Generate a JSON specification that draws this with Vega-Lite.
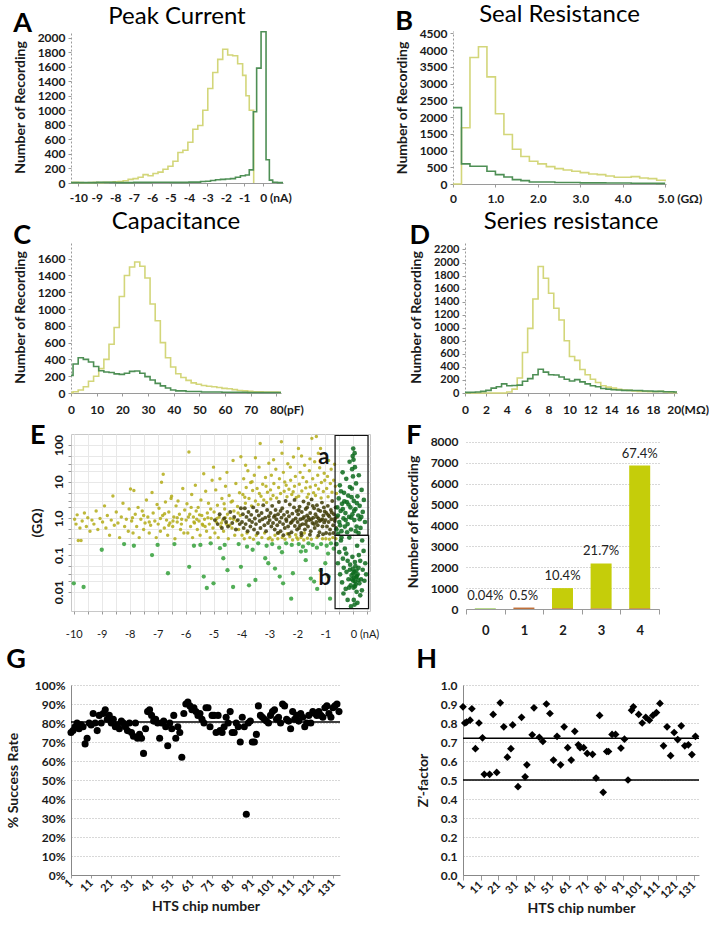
{
"$schema": "https://vega.github.io/schema/vega-lite/v6.json",
"background": "white",
"padding": {"left": 6, "top": 3, "right": 0, "bottom": 0},
"spacing": 6,
"resolve": {"scale": {"color": "independent", "size": "independent"}},
"config": {
  "font": "Lato",
  "view": {"stroke": null},
  "axis": {"labelFont": "Lato", "labelFontWeight": "bold", "labelFontSize": 12, "labelColor": "#1a1a1a", "titleFont": "Lato", "titleFontWeight": "bold", "titleFontSize": 14, "titleColor": "#1a1a1a", "domainColor": "#9a9a9a", "tickColor": "#9a9a9a", "tickSize": 3, "grid": false, "labelPadding": 3, "titlePadding": 10, "labelOverlap": false},
  "title": {"font": "Lato", "color": "#000", "fontWeight": "normal", "fontSize": 24},
  "line": {"strokeWidth": 1.6}
},
"vconcat": [
{"hconcat": [
 {"title": {"text": "A", "anchor": "start", "frame": "bounds", "fontSize": 27, "fontWeight": "bold", "offset": -33},
  "resolve": {"scale": {"color": "independent"}},
  "vconcat": [{
  "width": 212, "height": 152,
  "title": {"text": "Peak Current", "offset": 0},
  "data": {"values": [
{"s":"Y","x":-10.4,"n":6},{"s":"Y","x":-10.27,"n":8},{"s":"Y","x":-10.0,"n":5},{"s":"Y","x":-9.73,"n":3},{"s":"Y","x":-9.46,"n":5},{"s":"Y","x":-9.19,"n":8},{"s":"Y","x":-8.92,"n":5},{"s":"Y","x":-8.65,"n":8},{"s":"Y","x":-8.38,"n":10},{"s":"Y","x":-8.11,"n":15},{"s":"Y","x":-7.84,"n":20},{"s":"Y","x":-7.57,"n":30},{"s":"Y","x":-7.3,"n":50},{"s":"Y","x":-7.03,"n":60},{"s":"Y","x":-6.76,"n":80},{"s":"Y","x":-6.49,"n":115},{"s":"Y","x":-6.22,"n":100},{"s":"Y","x":-5.95,"n":130},{"s":"Y","x":-5.68,"n":150},{"s":"Y","x":-5.41,"n":190},{"s":"Y","x":-5.14,"n":230},{"s":"Y","x":-4.87,"n":300},{"s":"Y","x":-4.6,"n":420},{"s":"Y","x":-4.33,"n":450},{"s":"Y","x":-4.06,"n":560},{"s":"Y","x":-3.79,"n":740},{"s":"Y","x":-3.52,"n":790},{"s":"Y","x":-3.25,"n":1000},{"s":"Y","x":-2.98,"n":1300},{"s":"Y","x":-2.71,"n":1520},{"s":"Y","x":-2.44,"n":1700},{"s":"Y","x":-2.17,"n":1840},{"s":"Y","x":-1.9,"n":1760},{"s":"Y","x":-1.63,"n":1750},{"s":"Y","x":-1.36,"n":1640},{"s":"Y","x":-1.09,"n":1480},{"s":"Y","x":-0.91,"n":1200},{"s":"Y","x":-0.73,"n":1000},{"s":"Y","x":-0.49,"n":0},
{"s":"G","x":-10.4,"n":5},{"s":"G","x":-9.0,"n":8},{"s":"G","x":-8.0,"n":5},{"s":"G","x":-7.0,"n":8},{"s":"G","x":-6.0,"n":10},{"s":"G","x":-5.0,"n":8},{"s":"G","x":-4.0,"n":12},{"s":"G","x":-3.37,"n":20},{"s":"G","x":-3.1,"n":25},{"s":"G","x":-2.83,"n":35},{"s":"G","x":-2.56,"n":45},{"s":"G","x":-2.29,"n":50},{"s":"G","x":-2.02,"n":55},{"s":"G","x":-1.75,"n":60},{"s":"G","x":-1.48,"n":80},{"s":"G","x":-1.21,"n":100},{"s":"G","x":-0.94,"n":110},{"s":"G","x":-0.73,"n":180},{"s":"G","x":-0.51,"n":980},{"s":"G","x":-0.33,"n":1580},{"s":"G","x":-0.09,"n":2080},{"s":"G","x":0.18,"n":320},{"s":"G","x":0.36,"n":40},{"s":"G","x":0.54,"n":10},{"s":"G","x":0.8,"n":5},{"s":"G","x":1.1,"n":5}
  ]},
  "mark": {"type": "line", "interpolate": "step-after"},
  "encoding": {
    "x": {"field": "x", "type": "quantitative", "scale": {"domain": [-10.4, 1.1], "nice": false, "zero": false},
      "axis": {"title": null, "values": [-10,-9,-8,-7,-6,-5,-4,-3,-2,-1,0], "labelExpr": "datum.value == 0 ? '0 (nA)' : '' + datum.value", "labelAlign": {"condition": {"test": "datum.value == 0", "value": "left"}, "value": "center"}, "labelOffset": {"condition": {"test": "datum.value == 0", "value": -3}, "value": 0}, "labelPadding": 6}},
    "y": {"field": "n", "type": "quantitative", "scale": {"domain": [0, 2090], "nice": false},
      "axis": {"title": "Number of Recording", "titlePadding": 10, "format": "d", "values": [0,200,400,600,800,1000,1200,1400,1600,1800,2000], "domainDash": [2,2]}},
    "color": {"field": "s", "type": "nominal", "scale": {"domain": ["Y","G"], "range": ["#d3d67a","#4e8f55"]}, "legend": null}
  }
 }]},
 {"title": {"text": "B", "anchor": "start", "frame": "bounds", "fontSize": 27, "fontWeight": "bold", "offset": -33},
  "resolve": {"scale": {"color": "independent"}},
  "vconcat": [{
  "width": 213, "height": 153,
  "title": {"text": "Seal Resistance", "offset": 0},
  "data": {"values": [
{"s":"Y","x":0,"n":0},{"s":"Y","x":0.2,"n":1680},{"s":"Y","x":0.4,"n":3780},{"s":"Y","x":0.6,"n":4100},{"s":"Y","x":0.8,"n":3200},{"s":"Y","x":1.0,"n":2100},{"s":"Y","x":1.2,"n":1480},{"s":"Y","x":1.4,"n":1040},{"s":"Y","x":1.6,"n":820},{"s":"Y","x":1.8,"n":680},{"s":"Y","x":2.0,"n":600},{"s":"Y","x":2.2,"n":520},{"s":"Y","x":2.4,"n":460},{"s":"Y","x":2.6,"n":420},{"s":"Y","x":2.8,"n":380},{"s":"Y","x":3.0,"n":340},{"s":"Y","x":3.2,"n":300},{"s":"Y","x":3.4,"n":280},{"s":"Y","x":3.6,"n":240},{"s":"Y","x":3.8,"n":200},{"s":"Y","x":4.0,"n":200},{"s":"Y","x":4.2,"n":220},{"s":"Y","x":4.4,"n":180},{"s":"Y","x":4.6,"n":160},{"s":"Y","x":4.8,"n":110},{"s":"Y","x":5.0,"n":80},
{"s":"G","x":0,"n":2280},{"s":"G","x":0.2,"n":600},{"s":"G","x":0.4,"n":530},{"s":"G","x":0.6,"n":530},{"s":"G","x":0.8,"n":380},{"s":"G","x":1.0,"n":280},{"s":"G","x":1.2,"n":210},{"s":"G","x":1.4,"n":130},{"s":"G","x":1.6,"n":100},{"s":"G","x":1.8,"n":60},{"s":"G","x":2.4,"n":45},{"s":"G","x":3.0,"n":35},{"s":"G","x":3.6,"n":28},{"s":"G","x":4.2,"n":22},{"s":"G","x":4.8,"n":18},{"s":"G","x":5.0,"n":18}
  ]},
  "mark": {"type": "line", "interpolate": "step-after"},
  "encoding": {
    "x": {"field": "x", "type": "quantitative", "scale": {"domain": [0, 5.02], "nice": false},
      "axis": {"title": null, "values": [0,1,2,3,4,5], "labelExpr": "datum.value == 0 ? '0' : datum.value == 5 ? '5.0 (GΩ)' : format(datum.value, '.1f')", "labelAlign": {"condition": {"test": "datum.value == 5", "value": "left"}, "value": "center"}, "labelOffset": {"condition": {"test": "datum.value == 5", "value": -8}, "value": 0}, "labelPadding": 6}},
    "y": {"field": "n", "type": "quantitative", "scale": {"domain": [0, 4570], "nice": false},
      "axis": {"title": "Number of Recording", "format": "d", "values": [0,500,1000,1500,2000,2500,3000,3500,4000,4500], "domainDash": [2,2]}},
    "color": {"field": "s", "type": "nominal", "scale": {"domain": ["Y","G"], "range": ["#d3d67a","#4e8f55"]}, "legend": null}
  }
 }]}
], "spacing": 103, "resolve": {"scale": {"color": "independent", "size": "independent"}}},
{"hconcat": [
 {"title": {"text": "C", "anchor": "start", "frame": "bounds", "fontSize": 27, "fontWeight": "bold", "offset": -40},
  "resolve": {"scale": {"color": "independent"}},
  "vconcat": [{
  "width": 210, "height": 152,
  "title": {"text": "Capacitance", "offset": 7},
  "data": {"values": [
{"s":"Y","x":0,"n":5},{"s":"Y","x":0.8,"n":15},{"s":"Y","x":2.8,"n":35},{"s":"Y","x":4.8,"n":75},{"s":"Y","x":6.8,"n":140},{"s":"Y","x":8.8,"n":200},{"s":"Y","x":10.8,"n":290},{"s":"Y","x":12.8,"n":400},{"s":"Y","x":14.8,"n":580},{"s":"Y","x":16.8,"n":780},{"s":"Y","x":18.8,"n":1150},{"s":"Y","x":20.8,"n":1400},{"s":"Y","x":22.8,"n":1500},{"s":"Y","x":24.8,"n":1560},{"s":"Y","x":26.8,"n":1510},{"s":"Y","x":28.8,"n":1370},{"s":"Y","x":30.8,"n":1060},{"s":"Y","x":32.8,"n":860},{"s":"Y","x":34.8,"n":600},{"s":"Y","x":36.8,"n":420},{"s":"Y","x":38.8,"n":310},{"s":"Y","x":40.8,"n":230},{"s":"Y","x":42.8,"n":185},{"s":"Y","x":44.8,"n":150},{"s":"Y","x":46.8,"n":120},{"s":"Y","x":48.8,"n":105},{"s":"Y","x":50.8,"n":90},{"s":"Y","x":52.8,"n":80},{"s":"Y","x":54.8,"n":75},{"s":"Y","x":56.8,"n":65},{"s":"Y","x":58.8,"n":55},{"s":"Y","x":60.8,"n":50},{"s":"Y","x":62.8,"n":40},{"s":"Y","x":64.8,"n":30},{"s":"Y","x":66.8,"n":25},{"s":"Y","x":68.8,"n":20},{"s":"Y","x":70.8,"n":15},{"s":"Y","x":72.8,"n":15},{"s":"Y","x":74.8,"n":12},{"s":"Y","x":76.8,"n":10},{"s":"Y","x":78.8,"n":10},{"s":"Y","x":80.8,"n":8},{"s":"Y","x":81.8,"n":8},
{"s":"G","x":0,"n":210},{"s":"G","x":0.8,"n":345},{"s":"G","x":2.8,"n":420},{"s":"G","x":4.8,"n":400},{"s":"G","x":6.8,"n":370},{"s":"G","x":8.8,"n":315},{"s":"G","x":10.8,"n":265},{"s":"G","x":12.8,"n":250},{"s":"G","x":14.8,"n":245},{"s":"G","x":16.8,"n":228},{"s":"G","x":18.8,"n":222},{"s":"G","x":20.8,"n":235},{"s":"G","x":22.8,"n":258},{"s":"G","x":24.8,"n":262},{"s":"G","x":26.8,"n":235},{"s":"G","x":28.8,"n":195},{"s":"G","x":30.8,"n":155},{"s":"G","x":32.8,"n":115},{"s":"G","x":34.8,"n":85},{"s":"G","x":36.8,"n":60},{"s":"G","x":38.8,"n":35},{"s":"G","x":40.8,"n":25},{"s":"G","x":44.8,"n":18},{"s":"G","x":50.8,"n":12},{"s":"G","x":58.8,"n":9},{"s":"G","x":68.8,"n":6},{"s":"G","x":81.8,"n":6}
  ]},
  "mark": {"type": "line", "interpolate": "step-after"},
  "encoding": {
    "x": {"field": "x", "type": "quantitative", "scale": {"domain": [0, 81.8], "nice": false},
      "axis": {"title": null, "values": [0,10,20,30,40,50,60,70,80], "labelExpr": "datum.value == 80 ? '80(pF)' : '' + datum.value", "labelAlign": {"condition": {"test": "datum.value == 80", "value": "left"}, "value": "center"}, "labelOffset": {"condition": {"test": "datum.value == 80", "value": -7}, "value": 0}, "labelPadding": 8}},
    "y": {"field": "n", "type": "quantitative", "scale": {"domain": [0, 1810], "nice": false},
      "axis": {"title": "Number of Recording", "titlePadding": 10, "format": "d", "values": [0,200,400,600,800,1000,1200,1400,1600], "domainDash": [2,2]}},
    "color": {"field": "s", "type": "nominal", "scale": {"domain": ["Y","G"], "range": ["#d3d67a","#4e8f55"]}, "legend": null}
  }
 }]},
 {"title": {"text": "D", "anchor": "start", "frame": "bounds", "fontSize": 27, "fontWeight": "bold", "offset": -40},
  "resolve": {"scale": {"color": "independent"}},
  "vconcat": [{
  "width": 212, "height": 152,
  "title": {"text": "Series resistance", "offset": 7},
  "data": {"values": [
{"s":"Y","x":0,"n":0},{"s":"Y","x":4.0,"n":15},{"s":"Y","x":4.5,"n":60},{"s":"Y","x":5.0,"n":230},{"s":"Y","x":5.5,"n":620},{"s":"Y","x":6.0,"n":990},{"s":"Y","x":6.5,"n":1440},{"s":"Y","x":7.0,"n":1940},{"s":"Y","x":7.5,"n":1760},{"s":"Y","x":8.0,"n":1530},{"s":"Y","x":8.5,"n":1300},{"s":"Y","x":9.0,"n":1120},{"s":"Y","x":9.5,"n":800},{"s":"Y","x":10.0,"n":560},{"s":"Y","x":10.5,"n":500},{"s":"Y","x":11.0,"n":360},{"s":"Y","x":11.5,"n":280},{"s":"Y","x":12.0,"n":210},{"s":"Y","x":12.5,"n":160},{"s":"Y","x":13.0,"n":110},{"s":"Y","x":13.5,"n":90},{"s":"Y","x":14.0,"n":75},{"s":"Y","x":14.5,"n":55},{"s":"Y","x":15.0,"n":45},{"s":"Y","x":15.5,"n":40},{"s":"Y","x":16.0,"n":30},{"s":"Y","x":16.5,"n":25},{"s":"Y","x":17.0,"n":25},{"s":"Y","x":17.5,"n":20},{"s":"Y","x":18.0,"n":20},{"s":"Y","x":18.5,"n":25},{"s":"Y","x":19.0,"n":15},{"s":"Y","x":19.5,"n":10},{"s":"Y","x":20.0,"n":5},{"s":"Y","x":20.3,"n":5},
{"s":"G","x":0,"n":10},{"s":"G","x":0.5,"n":12},{"s":"G","x":1.0,"n":15},{"s":"G","x":1.5,"n":25},{"s":"G","x":2.0,"n":40},{"s":"G","x":2.5,"n":75},{"s":"G","x":3.0,"n":95},{"s":"G","x":3.5,"n":140},{"s":"G","x":4.0,"n":110},{"s":"G","x":4.5,"n":115},{"s":"G","x":5.0,"n":120},{"s":"G","x":5.5,"n":180},{"s":"G","x":6.0,"n":220},{"s":"G","x":6.5,"n":280},{"s":"G","x":7.0,"n":365},{"s":"G","x":7.5,"n":320},{"s":"G","x":8.0,"n":280},{"s":"G","x":8.5,"n":275},{"s":"G","x":9.0,"n":245},{"s":"G","x":9.5,"n":210},{"s":"G","x":10.0,"n":185},{"s":"G","x":10.5,"n":205},{"s":"G","x":11.0,"n":170},{"s":"G","x":11.5,"n":140},{"s":"G","x":12.0,"n":110},{"s":"G","x":12.5,"n":95},{"s":"G","x":13.0,"n":70},{"s":"G","x":13.5,"n":60},{"s":"G","x":14.0,"n":50},{"s":"G","x":14.5,"n":45},{"s":"G","x":15.0,"n":40},{"s":"G","x":16.0,"n":38},{"s":"G","x":17.0,"n":30},{"s":"G","x":18.0,"n":25},{"s":"G","x":19.0,"n":20},{"s":"G","x":20.0,"n":15},{"s":"G","x":20.3,"n":15}
  ]},
  "mark": {"type": "line", "interpolate": "step-after"},
  "encoding": {
    "x": {"field": "x", "type": "quantitative", "scale": {"domain": [0, 20.3], "nice": false},
      "axis": {"title": null, "values": [0,2,4,6,8,10,12,14,16,18,20], "labelExpr": "datum.value == 20 ? '20(MΩ)' : '' + datum.value", "labelAlign": {"condition": {"test": "datum.value == 20", "value": "left"}, "value": "center"}, "labelOffset": {"condition": {"test": "datum.value == 20", "value": -7}, "value": 0}, "labelPadding": 8}},
    "y": {"field": "n", "type": "quantitative", "scale": {"domain": [0, 2330], "nice": false},
      "axis": {"title": "Number of Recording", "format": "d", "labelFontSize": 11, "values": [0,200,400,600,800,1000,1200,1400,1600,1800,2000,2200], "domainDash": [2,2]}},
    "color": {"field": "s", "type": "nominal", "scale": {"domain": ["Y","G"], "range": ["#d3d67a","#4e8f55"]}, "legend": null}
  }
 }]}
], "spacing": 105, "resolve": {"scale": {"color": "independent", "size": "independent"}}},
{"hconcat": [
 {"width": 299, "height": 177,
  "title": {"text": "E", "anchor": "start", "frame": "bounds", "fontSize": 27, "fontWeight": "bold", "offset": -16},
  "view": {"stroke": "#c8c8c8"},
  "encoding": {
    "x": {"field": "x", "type": "quantitative", "scale": {"domain": [-10.1, 0.6], "nice": false, "zero": false},
      "axis": {"title": null, "grid": true, "gridColor": "#e8e8e8", "labelFontWeight": "normal", "labelFontSize": 11, "values": [-10,-9.5,-9,-8.5,-8,-7.5,-7,-6.5,-6,-5.5,-5,-4.5,-4,-3.5,-3,-2.5,-2,-1.5,-1,-0.5,0,0.5], "labelExpr": "datum.value == 0 ? '0    (nA)' : (datum.value % 1 == 0 ? '' + datum.value : '')", "labelAlign": {"condition": {"test": "datum.value == 0", "value": "left"}, "value": "center"}, "labelOffset": {"condition": {"test": "datum.value == 0", "value": -3}, "value": 0}, "labelPadding": 14, "domain": false}},
    "y": {"field": "y", "type": "quantitative", "scale": {"type": "log", "domain": [0.003, 200], "nice": false},
      "axis": {"title": "(GΩ)", "grid": true, "gridColor": "#e8e8e8", "values": [0.01,0.02,0.03,0.05,0.1,0.2,0.3,0.5,1,2,3,5,10,20,30,50,100], "labelExpr": "datum.value == 0.01 ? '0.01' : datum.value == 0.1 ? '0.1' : datum.value == 1 ? '1.0' : datum.value == 10 ? '10' : datum.value == 100 ? '100' : ''", "labelAngle": -90, "labelAlign": "center", "labelBaseline": "bottom", "domain": false, "titlePadding": 8}}
  },
  "layer": [
  {"data": {"values": [
{"c":"L","x":-9.97,"y":0.95},{"c":"L","x":-9.92,"y":0.7},{"c":"L","x":-9.88,"y":1.25},{"c":"L","x":-9.84,"y":0.25},{"c":"L","x":-9.78,"y":0.55},{"c":"L","x":-9.74,"y":0.25},{"c":"L","x":-9.7,"y":0.85},{"c":"L","x":-9.62,"y":1.4},{"c":"L","x":-9.55,"y":0.6},{"c":"L","x":-9.5,"y":1.05},{"c":"L","x":-9.42,"y":0.45},{"c":"L","x":-9.35,"y":0.9},{"c":"L","x":-9.28,"y":0.7},{"c":"L","x":-9.2,"y":1.6},{"c":"L","x":-9.14,"y":0.5},{"c":"L","x":-9.06,"y":1.0},
{"c":"L","x":-8.97,"y":0.8},{"c":"L","x":-8.9,"y":2.2},{"c":"L","x":-8.85,"y":0.55},{"c":"L","x":-8.8,"y":1.2},{"c":"L","x":-8.72,"y":0.35},{"c":"L","x":-8.66,"y":0.9},{"c":"L","x":-8.6,"y":4.1},{"c":"L","x":-8.55,"y":0.65},{"c":"L","x":-8.48,"y":1.5},{"c":"L","x":-8.42,"y":0.75},{"c":"L","x":-8.36,"y":0.3},{"c":"L","x":-8.3,"y":1.1},{"c":"L","x":-8.24,"y":2.6},{"c":"L","x":-8.18,"y":0.6},{"c":"L","x":-8.12,"y":0.95},{"c":"L","x":-8.05,"y":0.45},{"c":"L","x":-8.02,"y":1.8},
{"c":"L","x":-7.97,"y":6.3},{"c":"L","x":-7.93,"y":0.85},{"c":"L","x":-7.88,"y":0.4},{"c":"L","x":-7.85,"y":5.8},{"c":"L","x":-7.8,"y":1.3},{"c":"L","x":-7.75,"y":0.6},{"c":"L","x":-7.7,"y":2.0},{"c":"L","x":-7.66,"y":0.3},{"c":"L","x":-7.6,"y":0.95},{"c":"L","x":-7.55,"y":1.6},{"c":"L","x":-7.5,"y":0.5},{"c":"L","x":-7.45,"y":0.75},{"c":"L","x":-7.4,"y":3.2},{"c":"L","x":-7.35,"y":1.1},{"c":"L","x":-7.3,"y":0.4},{"c":"L","x":-7.25,"y":0.65},{"c":"L","x":-7.2,"y":5.1},{"c":"L","x":-7.16,"y":1.4},{"c":"L","x":-7.1,"y":0.85},{"c":"L","x":-7.05,"y":0.3},{"c":"L","x":-7.02,"y":2.4},{"c":"L","x":-7.5,"y":1.2},{"c":"L","x":-7.9,"y":1.05},{"c":"L","x":-7.3,"y":0.8},
{"c":"L","x":-6.98,"y":0.7},{"c":"L","x":-6.95,"y":1.9},{"c":"L","x":-6.9,"y":0.45},{"c":"L","x":-6.86,"y":9.7},{"c":"L","x":-6.82,"y":1.2},{"c":"L","x":-6.8,"y":16},{"c":"L","x":-6.76,"y":0.55},{"c":"L","x":-6.72,"y":2.8},{"c":"L","x":-6.68,"y":0.9},{"c":"L","x":-6.64,"y":0.35},{"c":"L","x":-6.6,"y":1.5},{"c":"L","x":-6.56,"y":0.75},{"c":"L","x":-6.52,"y":3.5},{"c":"L","x":-6.5,"y":4.0},{"c":"L","x":-6.46,"y":0.6},{"c":"L","x":-6.42,"y":1.1},{"c":"L","x":-6.38,"y":0.28},{"c":"L","x":-6.34,"y":2.2},{"c":"L","x":-6.3,"y":0.8},{"c":"L","x":-6.27,"y":3.0},{"c":"L","x":-6.22,"y":1.3},{"c":"L","x":-6.18,"y":0.5},{"c":"L","x":-6.14,"y":0.95},{"c":"L","x":-6.1,"y":6.5},{"c":"L","x":-6.06,"y":0.4},{"c":"L","x":-6.03,"y":1.7},{"c":"L","x":-6.9,"y":1.0},{"c":"L","x":-6.6,"y":0.65},{"c":"L","x":-6.3,"y":1.05},{"c":"L","x":-6.15,"y":0.7},{"c":"L","x":-6.45,"y":0.85},{"c":"L","x":-6.75,"y":1.35},
{"c":"L","x":-5.98,"y":0.9},{"c":"L","x":-5.95,"y":2.5},{"c":"L","x":-5.92,"y":0.4},{"c":"L","x":-5.88,"y":65},{"c":"L","x":-5.85,"y":1.3},{"c":"L","x":-5.82,"y":0.6},{"c":"L","x":-5.78,"y":4.5},{"c":"L","x":-5.75,"y":0.3},{"c":"L","x":-5.72,"y":1.1},{"c":"L","x":-5.68,"y":0.75},{"c":"L","x":-5.65,"y":8.0},{"c":"L","x":-5.62,"y":1.6},{"c":"L","x":-5.58,"y":0.5},{"c":"L","x":-5.55,"y":2.0},{"c":"L","x":-5.52,"y":0.85},{"c":"L","x":-5.48,"y":0.35},{"c":"L","x":-5.45,"y":3.2},{"c":"L","x":-5.42,"y":1.2},{"c":"L","x":-5.38,"y":0.65},{"c":"L","x":-5.35,"y":16.4},{"c":"L","x":-5.32,"y":0.95},{"c":"L","x":-5.28,"y":5.5},{"c":"L","x":-5.25,"y":0.45},{"c":"L","x":-5.22,"y":1.4},{"c":"L","x":-5.18,"y":2.6},{"c":"L","x":-5.15,"y":0.7},{"c":"L","x":-5.12,"y":0.3},{"c":"L","x":-5.08,"y":1.0},{"c":"L","x":-5.05,"y":11},{"c":"L","x":-5.02,"y":0.55},{"c":"L","x":-5.0,"y":25},{"c":"L","x":-5.9,"y":1.1},{"c":"L","x":-5.7,"y":0.8},{"c":"L","x":-5.5,"y":1.25},{"c":"L","x":-5.3,"y":0.6},{"c":"L","x":-5.1,"y":1.8},{"c":"L","x":-5.8,"y":2.0},{"c":"L","x":-5.6,"y":0.95},{"c":"L","x":-5.4,"y":0.7},{"c":"L","x":-5.2,"y":1.05},
{"c":"L","x":-4.98,"y":1.5},{"c":"L","x":-4.95,"y":0.4},{"c":"L","x":-4.92,"y":6.0},{"c":"L","x":-4.9,"y":0.8},{"c":"L","x":-4.86,"y":2.3},{"c":"L","x":-4.83,"y":0.3},{"c":"L","x":-4.8,"y":1.1},{"c":"L","x":-4.77,"y":12},{"c":"L","x":-4.74,"y":0.6},{"c":"L","x":-4.7,"y":3.5},{"c":"L","x":-4.67,"y":0.9},{"c":"L","x":-4.64,"y":0.45},{"c":"L","x":-4.6,"y":1.8},{"c":"L","x":-4.57,"y":7.5},{"c":"L","x":-4.54,"y":0.7},{"c":"L","x":-4.5,"y":1.3},{"c":"L","x":-4.47,"y":0.28},{"c":"L","x":-4.44,"y":4.2},{"c":"L","x":-4.4,"y":1.0},{"c":"L","x":-4.37,"y":2.8},{"c":"L","x":-4.34,"y":0.55},{"c":"L","x":-4.3,"y":38},{"c":"L","x":-4.27,"y":1.6},{"c":"L","x":-4.24,"y":0.35},{"c":"L","x":-4.2,"y":9.0},{"c":"L","x":-4.17,"y":0.85},{"c":"L","x":-4.14,"y":2.1},{"c":"L","x":-4.1,"y":0.5},{"c":"L","x":-4.07,"y":5.0},{"c":"L","x":-4.04,"y":1.2},{"c":"L","x":-4.02,"y":48},{"c":"L","x":-4.88,"y":1.0},{"c":"L","x":-4.72,"y":0.75},{"c":"L","x":-4.58,"y":1.05},{"c":"L","x":-4.42,"y":0.65},{"c":"L","x":-4.28,"y":0.95},{"c":"L","x":-4.12,"y":1.4},{"c":"L","x":-4.62,"y":2.5},{"c":"L","x":-4.32,"y":3.0},{"c":"L","x":-4.52,"y":18},
{"c":"L","x":-3.98,"y":0.35},{"c":"L","x":-3.95,"y":4.5},{"c":"L","x":-3.92,"y":12},{"c":"L","x":-3.9,"y":0.28},{"c":"L","x":-3.86,"y":2.6},{"c":"L","x":-3.83,"y":7.0},{"c":"L","x":-3.8,"y":0.4},{"c":"L","x":-3.77,"y":20},{"c":"L","x":-3.73,"y":3.5},{"c":"L","x":-3.7,"y":0.3},{"c":"L","x":-3.67,"y":9.5},{"c":"L","x":-3.64,"y":2.2},{"c":"L","x":-3.6,"y":5.8},{"c":"L","x":-3.57,"y":0.27},{"c":"L","x":-3.54,"y":15},{"c":"L","x":-3.5,"y":3.0},{"c":"L","x":-3.47,"y":0.35},{"c":"L","x":-3.44,"y":6.5},{"c":"L","x":-3.4,"y":2.4},{"c":"L","x":-3.37,"y":25},{"c":"L","x":-3.33,"y":110},{"c":"L","x":-3.3,"y":4.0},{"c":"L","x":-3.27,"y":0.3},{"c":"L","x":-3.24,"y":8.5},{"c":"L","x":-3.2,"y":3.2},{"c":"L","x":-3.17,"y":0.4},{"c":"L","x":-3.14,"y":13},{"c":"L","x":-3.1,"y":2.7},{"c":"L","x":-3.07,"y":5.2},{"c":"L","x":-3.04,"y":0.28},{"c":"L","x":-3.02,"y":32},{"c":"L","x":-3.88,"y":3.8},{"c":"L","x":-3.62,"y":10},{"c":"L","x":-3.36,"y":4.8},{"c":"L","x":-3.12,"y":7.5},{"c":"L","x":-3.5,"y":45},{"c":"L","x":-3.85,"y":28},
{"c":"L","x":-2.98,"y":0.3},{"c":"L","x":-2.96,"y":6.0},{"c":"L","x":-2.93,"y":15},{"c":"L","x":-2.9,"y":0.26},{"c":"L","x":-2.87,"y":4.2},{"c":"L","x":-2.84,"y":9.0},{"c":"L","x":-2.8,"y":0.35},{"c":"L","x":-2.77,"y":22},{"c":"L","x":-2.74,"y":3.6},{"c":"L","x":-2.7,"y":0.28},{"c":"L","x":-2.67,"y":7.0},{"c":"L","x":-2.64,"y":12},{"c":"L","x":-2.6,"y":4.8},{"c":"L","x":-2.57,"y":123},{"c":"L","x":-2.54,"y":0.3},{"c":"L","x":-2.5,"y":18},{"c":"L","x":-2.47,"y":5.5},{"c":"L","x":-2.44,"y":0.27},{"c":"L","x":-2.4,"y":8.0},{"c":"L","x":-2.37,"y":3.9},{"c":"L","x":-2.34,"y":31},{"c":"L","x":-2.3,"y":6.2},{"c":"L","x":-2.27,"y":0.32},{"c":"L","x":-2.24,"y":11},{"c":"L","x":-2.2,"y":4.5},{"c":"L","x":-2.17,"y":0.26},{"c":"L","x":-2.14,"y":47},{"c":"L","x":-2.1,"y":7.5},{"c":"L","x":-2.07,"y":14},{"c":"L","x":-2.04,"y":3.7},{"c":"L","x":-2.02,"y":0.3},{"c":"L","x":-2.85,"y":40},{"c":"L","x":-2.55,"y":60},{"c":"L","x":-2.25,"y":25},{"c":"L","x":-2.66,"y":0.4},{"c":"L","x":-2.36,"y":0.38},{"c":"L","x":-2.06,"y":0.36},{"c":"L","x":-2.95,"y":3.4},{"c":"L","x":-2.45,"y":9.8},{"c":"L","x":-2.15,"y":5.3},
{"c":"L","x":-1.98,"y":0.27},{"c":"L","x":-1.96,"y":81},{"c":"L","x":-1.93,"y":8.5},{"c":"L","x":-1.9,"y":18},{"c":"L","x":-1.87,"y":0.3},{"c":"L","x":-1.84,"y":5.6},{"c":"L","x":-1.8,"y":13},{"c":"L","x":-1.77,"y":0.26},{"c":"L","x":-1.74,"y":28},{"c":"L","x":-1.7,"y":6.8},{"c":"L","x":-1.67,"y":10},{"c":"L","x":-1.64,"y":0.29},{"c":"L","x":-1.6,"y":4.6},{"c":"L","x":-1.57,"y":20},{"c":"L","x":-1.54,"y":7.2},{"c":"L","x":-1.5,"y":0.27},{"c":"L","x":-1.48,"y":152},{"c":"L","x":-1.45,"y":12},{"c":"L","x":-1.42,"y":5.0},{"c":"L","x":-1.38,"y":35},{"c":"L","x":-1.35,"y":8.0},{"c":"L","x":-1.32,"y":170},{"c":"L","x":-1.3,"y":0.3},{"c":"L","x":-1.27,"y":15},{"c":"L","x":-1.24,"y":6.3},{"c":"L","x":-1.2,"y":24},{"c":"L","x":-1.17,"y":80},{"c":"L","x":-1.14,"y":9.5},{"c":"L","x":-1.1,"y":0.28},{"c":"L","x":-1.07,"y":5.4},{"c":"L","x":-1.04,"y":17},{"c":"L","x":-1.02,"y":11},{"c":"L","x":-1.85,"y":50},{"c":"L","x":-1.55,"y":42},{"c":"L","x":-1.25,"y":60},{"c":"L","x":-1.65,"y":3.8},{"c":"L","x":-1.35,"y":4.2},{"c":"L","x":-1.15,"y":3.6},{"c":"L","x":-1.95,"y":4.0},{"c":"L","x":-1.75,"y":0.4},
{"c":"L","x":-0.98,"y":0.28},{"c":"L","x":-0.95,"y":6.5},{"c":"L","x":-0.92,"y":14},{"c":"L","x":-0.88,"y":38},{"c":"L","x":-0.85,"y":0.27},{"c":"L","x":-0.82,"y":9.0},{"c":"L","x":-0.79,"y":22},{"c":"L","x":-0.76,"y":5.2},{"c":"L","x":-0.73,"y":0.3},{"c":"L","x":-0.7,"y":11},{"c":"L","x":-0.67,"y":30},{"c":"L","x":-0.64,"y":7.5},{"c":"L","x":-0.62,"y":0.28},{"c":"L","x":-0.6,"y":4.8},{"c":"L","x":-0.9,"y":3.9},
{"c":"D","x":-4.95,"y":0.9},{"c":"D","x":-4.85,"y":0.7},{"c":"D","x":-4.78,"y":1.3},{"c":"D","x":-4.7,"y":0.55},{"c":"D","x":-4.62,"y":1.0},{"c":"D","x":-4.55,"y":0.8},{"c":"D","x":-4.48,"y":0.6},{"c":"D","x":-4.4,"y":1.5},{"c":"D","x":-4.33,"y":0.75},{"c":"D","x":-4.26,"y":1.1},{"c":"D","x":-4.2,"y":0.5},{"c":"D","x":-4.13,"y":0.9},{"c":"D","x":-4.06,"y":0.7},{"c":"D","x":-4.02,"y":1.9},
{"c":"D","x":-3.98,"y":0.8},{"c":"D","x":-3.95,"y":1.3},{"c":"D","x":-3.92,"y":0.55},{"c":"D","x":-3.88,"y":1.9},{"c":"D","x":-3.85,"y":0.7},{"c":"D","x":-3.82,"y":1.1},{"c":"D","x":-3.78,"y":0.45},{"c":"D","x":-3.75,"y":1.5},{"c":"D","x":-3.72,"y":0.9},{"c":"D","x":-3.68,"y":0.6},{"c":"D","x":-3.65,"y":1.25},{"c":"D","x":-3.62,"y":0.8},{"c":"D","x":-3.58,"y":2.0},{"c":"D","x":-3.55,"y":0.5},{"c":"D","x":-3.52,"y":1.0},{"c":"D","x":-3.48,"y":0.7},{"c":"D","x":-3.45,"y":1.6},{"c":"D","x":-3.42,"y":0.4},{"c":"D","x":-3.38,"y":1.2},{"c":"D","x":-3.35,"y":0.85},{"c":"D","x":-3.32,"y":0.55},{"c":"D","x":-3.28,"y":1.4},{"c":"D","x":-3.25,"y":0.95},{"c":"D","x":-3.22,"y":2.3},{"c":"D","x":-3.18,"y":0.65},{"c":"D","x":-3.15,"y":1.05},{"c":"D","x":-3.12,"y":0.45},{"c":"D","x":-3.08,"y":1.7},{"c":"D","x":-3.05,"y":0.75},{"c":"D","x":-3.02,"y":1.15},
{"c":"D","x":-2.99,"y":0.9},{"c":"D","x":-2.96,"y":1.4},{"c":"D","x":-2.93,"y":0.6},{"c":"D","x":-2.9,"y":2.2},{"c":"D","x":-2.87,"y":0.75},{"c":"D","x":-2.84,"y":1.1},{"c":"D","x":-2.81,"y":0.5},{"c":"D","x":-2.78,"y":1.7},{"c":"D","x":-2.75,"y":0.95},{"c":"D","x":-2.72,"y":0.65},{"c":"D","x":-2.69,"y":1.3},{"c":"D","x":-2.66,"y":2.8},{"c":"D","x":-2.63,"y":0.8},{"c":"D","x":-2.6,"y":0.45},{"c":"D","x":-2.57,"y":1.05},{"c":"D","x":-2.54,"y":1.9},{"c":"D","x":-2.51,"y":0.7},{"c":"D","x":-2.48,"y":1.25},{"c":"D","x":-2.45,"y":0.55},{"c":"D","x":-2.42,"y":3.0},{"c":"D","x":-2.39,"y":0.85},{"c":"D","x":-2.36,"y":1.5},{"c":"D","x":-2.33,"y":0.6},{"c":"D","x":-2.3,"y":1.15},{"c":"D","x":-2.27,"y":2.4},{"c":"D","x":-2.24,"y":0.75},{"c":"D","x":-2.21,"y":0.42},{"c":"D","x":-2.18,"y":1.35},{"c":"D","x":-2.15,"y":0.9},{"c":"D","x":-2.12,"y":2.0},{"c":"D","x":-2.09,"y":0.62},{"c":"D","x":-2.06,"y":1.0},{"c":"D","x":-2.03,"y":1.6},{"c":"D","x":-2.01,"y":0.5},{"c":"D","x":-2.8,"y":1.2},{"c":"D","x":-2.6,"y":1.6},{"c":"D","x":-2.4,"y":0.95},{"c":"D","x":-2.2,"y":0.8},{"c":"D","x":-2.7,"y":0.4},{"c":"D","x":-2.5,"y":0.35},{"c":"D","x":-2.3,"y":0.38},{"c":"D","x":-2.1,"y":3.2},
{"c":"D","x":-1.99,"y":0.8},{"c":"D","x":-1.97,"y":1.3},{"c":"D","x":-1.94,"y":0.55},{"c":"D","x":-1.92,"y":2.1},{"c":"D","x":-1.89,"y":0.95},{"c":"D","x":-1.86,"y":0.4},{"c":"D","x":-1.84,"y":1.5},{"c":"D","x":-1.81,"y":0.7},{"c":"D","x":-1.78,"y":2.9},{"c":"D","x":-1.76,"y":1.1},{"c":"D","x":-1.73,"y":0.5},{"c":"D","x":-1.7,"y":1.8},{"c":"D","x":-1.68,"y":0.85},{"c":"D","x":-1.65,"y":1.2},{"c":"D","x":-1.62,"y":0.6},{"c":"D","x":-1.6,"y":2.5},{"c":"D","x":-1.57,"y":0.9},{"c":"D","x":-1.54,"y":1.4},{"c":"D","x":-1.52,"y":0.45},{"c":"D","x":-1.49,"y":3.3},{"c":"D","x":-1.46,"y":0.75},{"c":"D","x":-1.43,"y":1.05},{"c":"D","x":-1.4,"y":1.9},{"c":"D","x":-1.38,"y":0.55},{"c":"D","x":-1.35,"y":1.3},{"c":"D","x":-1.32,"y":0.8},{"c":"D","x":-1.3,"y":2.3},{"c":"D","x":-1.27,"y":0.65},{"c":"D","x":-1.24,"y":1.0},{"c":"D","x":-1.21,"y":0.42},{"c":"D","x":-1.18,"y":1.6},{"c":"D","x":-1.15,"y":0.9},{"c":"D","x":-1.12,"y":2.7},{"c":"D","x":-1.1,"y":0.6},{"c":"D","x":-1.07,"y":1.2},{"c":"D","x":-1.04,"y":0.78},{"c":"D","x":-1.02,"y":1.55},{"c":"D","x":-1.9,"y":0.65},{"c":"D","x":-1.8,"y":1.0},{"c":"D","x":-1.7,"y":0.7},{"c":"D","x":-1.6,"y":1.05},{"c":"D","x":-1.5,"y":0.95},{"c":"D","x":-1.4,"y":0.7},{"c":"D","x":-1.3,"y":1.1},{"c":"D","x":-1.2,"y":0.85},{"c":"D","x":-1.1,"y":0.95},{"c":"D","x":-1.95,"y":1.7},{"c":"D","x":-1.65,"y":2.0},{"c":"D","x":-1.45,"y":2.2},{"c":"D","x":-1.25,"y":1.7},{"c":"D","x":-1.05,"y":2.0},{"c":"D","x":-1.85,"y":0.35},{"c":"D","x":-1.55,"y":0.36},{"c":"D","x":-1.25,"y":0.34},{"c":"D","x":-1.08,"y":0.37},
{"c":"D","x":-0.99,"y":0.9},{"c":"D","x":-0.96,"y":1.4},{"c":"D","x":-0.94,"y":0.6},{"c":"D","x":-0.91,"y":2.2},{"c":"D","x":-0.88,"y":0.8},{"c":"D","x":-0.86,"y":1.15},{"c":"D","x":-0.83,"y":0.5},{"c":"D","x":-0.8,"y":1.7},{"c":"D","x":-0.78,"y":0.95},{"c":"D","x":-0.75,"y":3.0},{"c":"D","x":-0.72,"y":0.65},{"c":"D","x":-0.69,"y":1.3},{"c":"D","x":-0.66,"y":0.85},{"c":"D","x":-0.63,"y":2.0},{"c":"D","x":-0.61,"y":0.55},{"c":"D","x":-0.58,"y":1.1},{"c":"D","x":-0.97,"y":0.4},{"c":"D","x":-0.84,"y":0.38},{"c":"D","x":-0.71,"y":0.4},{"c":"D","x":-0.9,"y":1.25},{"c":"D","x":-0.77,"y":1.45},{"c":"D","x":-0.65,"y":1.0},
{"c":"g","x":-10.0,"y":0.017},{"c":"g","x":-9.65,"y":0.0135},{"c":"g","x":-9.0,"y":0.14},{"c":"g","x":-7.85,"y":0.18},{"c":"g","x":-7.2,"y":0.1},{"c":"g","x":-6.63,"y":0.032},{"c":"g","x":-5.87,"y":0.048},{"c":"g","x":-5.35,"y":0.026},{"c":"g","x":-5.24,"y":0.0127},{"c":"g","x":-5.0,"y":0.017},{"c":"g","x":-5.47,"y":0.19},{"c":"g","x":-4.77,"y":0.155},{"c":"g","x":-4.65,"y":0.082},{"c":"g","x":-4.5,"y":0.039},{"c":"g","x":-4.3,"y":0.0135},{"c":"g","x":-4.02,"y":0.048},{"c":"g","x":-3.73,"y":0.015},{"c":"g","x":-3.5,"y":0.021},{"c":"g","x":-3.15,"y":0.082},{"c":"g","x":-3.04,"y":0.06},{"c":"g","x":-2.8,"y":0.043},{"c":"g","x":-2.63,"y":0.026},{"c":"g","x":-2.51,"y":0.017},{"c":"g","x":-2.22,"y":0.0065},{"c":"g","x":-2.16,"y":0.032},{"c":"g","x":-1.87,"y":0.125},{"c":"g","x":-1.7,"y":0.073},{"c":"g","x":-1.52,"y":0.023},{"c":"g","x":-1.4,"y":0.019},{"c":"g","x":-1.29,"y":0.012},{"c":"g","x":-1.17,"y":0.039},{"c":"g","x":-1.0,"y":0.06},{"c":"g","x":-0.88,"y":0.026},{"c":"g","x":-0.83,"y":0.0065},
{"c":"g","x":-8.2,"y":0.2},{"c":"g","x":-7.0,"y":0.19},{"c":"g","x":-6.4,"y":0.2},{"c":"g","x":-5.7,"y":0.18},{"c":"g","x":-5.1,"y":0.21},{"c":"g","x":-4.6,"y":0.19},{"c":"g","x":-4.1,"y":0.2},{"c":"g","x":-3.8,"y":0.17},{"c":"g","x":-3.4,"y":0.21},{"c":"g","x":-3.1,"y":0.18},{"c":"g","x":-2.9,"y":0.2},{"c":"g","x":-2.65,"y":0.16},{"c":"g","x":-2.4,"y":0.21},{"c":"g","x":-2.2,"y":0.19},{"c":"g","x":-1.95,"y":0.2},{"c":"g","x":-1.8,"y":0.17},{"c":"g","x":-1.6,"y":0.21},{"c":"g","x":-1.45,"y":0.19},{"c":"g","x":-1.3,"y":0.16},{"c":"g","x":-1.15,"y":0.2},{"c":"g","x":-0.95,"y":0.18},{"c":"g","x":-0.8,"y":0.21},{"c":"g","x":-0.7,"y":0.15},{"c":"g","x":-1.7,"y":0.13},{"c":"g","x":-2.55,"y":0.12},{"c":"g","x":-3.6,"y":0.14},{"c":"g","x":-0.9,"y":0.11},
{"c":"G","x":-0.6,"y":0.5},{"c":"G","x":-0.55,"y":1.2},{"c":"G","x":-0.52,"y":3.5},{"c":"G","x":-0.5,"y":0.8},{"c":"G","x":-0.48,"y":8.0},{"c":"G","x":-0.45,"y":1.6},{"c":"G","x":-0.42,"y":0.45},{"c":"G","x":-0.4,"y":2.5},{"c":"G","x":-0.38,"y":18},{"c":"G","x":-0.35,"y":1.0},{"c":"G","x":-0.33,"y":5.0},{"c":"G","x":-0.3,"y":0.6},{"c":"G","x":-0.28,"y":1.4},{"c":"G","x":-0.25,"y":12},{"c":"G","x":-0.23,"y":2.8},{"c":"G","x":-0.2,"y":0.7},{"c":"G","x":-0.18,"y":4.2},{"c":"G","x":-0.15,"y":1.1},{"c":"G","x":-0.13,"y":35},{"c":"G","x":-0.1,"y":2.0},{"c":"G","x":-0.08,"y":0.5},{"c":"G","x":-0.05,"y":6.5},{"c":"G","x":-0.03,"y":1.3},{"c":"G","x":0.0,"y":80},{"c":"G","x":0.02,"y":3.0},{"c":"G","x":0.04,"y":0.9},{"c":"G","x":0.06,"y":25},{"c":"G","x":0.08,"y":1.8},{"c":"G","x":0.1,"y":9.0},{"c":"G","x":0.12,"y":0.6},{"c":"G","x":0.15,"y":4.0},{"c":"G","x":0.18,"y":1.2},{"c":"G","x":0.2,"y":15},{"c":"G","x":0.23,"y":2.2},{"c":"G","x":0.26,"y":0.55},{"c":"G","x":0.3,"y":6.0},{"c":"G","x":0.34,"y":1.5},{"c":"G","x":0.38,"y":3.2},{"c":"G","x":0.42,"y":0.8},{"c":"G","x":-0.57,"y":2.0},{"c":"G","x":-0.47,"y":0.65},{"c":"G","x":-0.37,"y":1.8},{"c":"G","x":-0.27,"y":0.9},{"c":"G","x":-0.17,"y":2.4},{"c":"G","x":-0.07,"y":1.05},{"c":"G","x":0.03,"y":1.6},{"c":"G","x":0.13,"y":2.6},{"c":"G","x":0.23,"y":0.95},{"c":"G","x":-0.02,"y":50},{"c":"G","x":-0.01,"y":14},{"c":"G","x":0.01,"y":40},{"c":"G","x":-0.04,"y":22},{"c":"G","x":0.05,"y":60},{"c":"G","x":-0.06,"y":3.8},{"c":"G","x":-0.12,"y":7.2},{"c":"G","x":-0.22,"y":0.42},{"c":"G","x":-0.32,"y":2.9},{"c":"G","x":-0.44,"y":5.5},{"c":"G","x":-0.54,"y":0.38},{"c":"G","x":0.09,"y":0.45},{"c":"G","x":0.19,"y":0.4},{"c":"G","x":0.29,"y":1.1},
{"c":"G","x":-0.6,"y":0.2},{"c":"G","x":-0.55,"y":0.06},{"c":"G","x":-0.5,"y":0.12},{"c":"G","x":-0.47,"y":0.03},{"c":"G","x":-0.44,"y":0.25},{"c":"G","x":-0.4,"y":0.018},{"c":"G","x":-0.37,"y":0.08},{"c":"G","x":-0.34,"y":0.045},{"c":"G","x":-0.3,"y":0.15},{"c":"G","x":-0.27,"y":0.012},{"c":"G","x":-0.24,"y":0.035},{"c":"G","x":-0.2,"y":0.07},{"c":"G","x":-0.17,"y":0.022},{"c":"G","x":-0.14,"y":0.3},{"c":"G","x":-0.12,"y":0.04},{"c":"G","x":-0.09,"y":0.015},{"c":"G","x":-0.06,"y":0.028},{"c":"G","x":-0.03,"y":0.09},{"c":"G","x":0.0,"y":0.02},{"c":"G","x":0.02,"y":0.006},{"c":"G","x":0.04,"y":0.035},{"c":"G","x":0.06,"y":0.014},{"c":"G","x":0.08,"y":0.05},{"c":"G","x":0.1,"y":0.025},{"c":"G","x":0.12,"y":0.01},{"c":"G","x":0.14,"y":0.18},{"c":"G","x":0.16,"y":0.03},{"c":"G","x":0.19,"y":0.045},{"c":"G","x":0.22,"y":0.017},{"c":"G","x":0.25,"y":0.07},{"c":"G","x":0.28,"y":0.022},{"c":"G","x":0.31,"y":0.011},{"c":"G","x":0.34,"y":0.04},{"c":"G","x":0.37,"y":0.13},{"c":"G","x":0.4,"y":0.02},{"c":"G","x":0.43,"y":0.06},{"c":"G","x":0.46,"y":0.03},{"c":"G","x":-0.08,"y":0.004},{"c":"G","x":0.05,"y":0.0045},{"c":"G","x":0.15,"y":0.005},{"c":"G","x":-0.2,"y":0.006},{"c":"G","x":0.25,"y":0.008},{"c":"G","x":-0.35,"y":0.009},{"c":"G","x":0.0,"y":0.032},{"c":"G","x":0.03,"y":0.024},{"c":"G","x":0.07,"y":0.019},{"c":"G","x":-0.02,"y":0.042},{"c":"G","x":0.11,"y":0.038},{"c":"G","x":0.09,"y":0.016},{"c":"G","x":-0.05,"y":0.022},{"c":"G","x":0.13,"y":0.027},{"c":"G","x":0.01,"y":0.013},{"c":"G","x":0.18,"y":0.021},{"c":"G","x":-0.11,"y":0.055},{"c":"G","x":0.2,"y":0.1},{"c":"G","x":-0.25,"y":0.11},{"c":"G","x":0.32,"y":0.25},{"c":"G","x":-0.42,"y":0.3},{"c":"G","x":0.06,"y":0.065},{"c":"G","x":-0.15,"y":0.013}
  ]},
   "mark": {"type": "point", "filled": true, "opacity": 0.85},
   "encoding": {
     "color": {"field": "c", "type": "nominal", "scale": {"domain": ["L","D","g","G"], "range": ["#b3ac17","#3f3c06","#34a03a","#0c6a1c"]}, "legend": null},
     "size": {"field": "c", "type": "nominal", "scale": {"domain": ["L","D","g","G"], "range": [12, 22, 10, 18]}, "legend": null}
   }
  },
  {"data": {"values": [{"x": -0.65, "xe": 0.53, "y": 0.345, "ye": 182}, {"x": -0.65, "xe": 0.55, "y": 0.0035, "ye": 0.345}]},
   "mark": {"type": "rect", "fill": null, "stroke": "#111", "strokeWidth": 1.2},
   "encoding": {"x2": {"field": "xe"}, "y2": {"field": "ye"}}
  },
  {"data": {"values": [{"t": "a", "x": -1.05, "y": 48}, {"t": "b", "x": -1.02, "y": 0.024}]},
   "mark": {"type": "text", "fontSize": 22, "fontWeight": "bold", "font": "Lato", "color": "#111"},
   "encoding": {"text": {"field": "t"}}
  }
  ]
 },
 {"width": 193, "height": 175,
  "title": {"text": "F", "anchor": "start", "frame": "bounds", "fontSize": 27, "fontWeight": "bold", "offset": -16},
  "resolve": {"scale": {"color": "independent"}},
  "encoding": {
     "x": {"field": "k", "type": "ordinal", "scale": {"paddingInner": 0, "paddingOuter": 0}, "axis": {"title": null, "labelAngle": 0, "labelPadding": 10, "tickBand": "extent", "tickSize": 5, "labelFontSize": 13}},
     "y": {"field": "n", "type": "quantitative", "scale": {"domain": [0, 8383], "nice": false}, "axis": {"title": "Number of Recording", "format": "d", "values": [0,1000,2000,3000,4000,5000,6000,7000,8000], "grid": true, "gridColor": "#b0b0b0", "gridDash": [1,2], "domain": false, "ticks": false, "labelPadding": 8}}
  },
  "layer": [
  {"data": {"values": [
{"k":"0","p":"c","n":30},{"k":"1","p":"b","n":70},{"k":"2","p":"b","n":40},{"k":"2","p":"a","n":960},{"k":"3","p":"b","n":40},{"k":"3","p":"a","n":2140},{"k":"4","p":"b","n":40},{"k":"4","p":"a","n":6830}
  ]},
   "mark": {"type": "bar", "width": 21},
   "encoding": {
     "color": {"field": "p", "type": "nominal", "scale": {"domain": ["a","b","c"], "range": ["#c5cd0a","#c0703a","#8fc64a"]}, "legend": null},
     "order": {"field": "p", "sort": "descending"}
   }
  },
  {"data": {"values": [{"k":"0","n":30,"lab":"0.04%"},{"k":"1","n":70,"lab":"0.5%"},{"k":"2","n":1000,"lab":"10.4%"},{"k":"3","n":2180,"lab":"21.7%"},{"k":"4","n":6870,"lab":"67.4%"}]},
   "mark": {"type": "text", "dy": -12, "fontSize": 13, "font": "Lato", "color": "#222"},
   "encoding": {"text": {"field": "lab"}}
  }
  ]
 }
], "spacing": 18, "resolve": {"scale": {"color": "independent", "size": "independent"}}},
{"hconcat": [
 {"width": 269, "height": 190,
  "title": {"text": "G", "anchor": "start", "frame": "bounds", "fontSize": 27, "fontWeight": "bold", "offset": 5},
  "encoding": {
     "y": {"field": "v", "type": "quantitative", "scale": {"domain": [0, 100], "nice": false}, "axis": {"title": "% Success Rate", "values": [0,10,20,30,40,50,60,70,80,90,100], "labelExpr": "datum.value + '%'", "grid": true, "gridColor": "#b0b0b0", "gridDash": [1,2], "ticks": false, "domainColor": "#888", "labelPadding": 6, "titlePadding": 14}}
  },
  "layer": [
  {"data": {"values": [{"v": 80.5}]}, "mark": {"type": "rule", "color": "#000", "strokeWidth": 1.6}},
  {"data": {"values": [
{"c":1,"v":75},{"c":2,"v":76},{"c":3,"v":78},{"c":4,"v":80},{"c":5,"v":77},{"c":6,"v":79},{"c":7,"v":78},{"c":8,"v":69},{"c":9,"v":72},{"c":10,"v":80},
{"c":11,"v":79},{"c":12,"v":85},{"c":13,"v":80},{"c":14,"v":76},{"c":15,"v":84},{"c":16,"v":80},{"c":17,"v":85},{"c":18,"v":87},{"c":19,"v":82},{"c":20,"v":84},
{"c":21,"v":80},{"c":22,"v":82},{"c":23,"v":78},{"c":24,"v":79},{"c":25,"v":77},{"c":26,"v":81},{"c":27,"v":80},{"c":28,"v":78},{"c":29,"v":76},{"c":30,"v":80},
{"c":31,"v":75},{"c":32,"v":73},{"c":33,"v":80},{"c":34,"v":72},{"c":35,"v":74},{"c":36,"v":72},{"c":37,"v":64},{"c":38,"v":77},{"c":39,"v":86},{"c":40,"v":87},
{"c":41,"v":84},{"c":42,"v":81},{"c":43,"v":82},{"c":44,"v":80},{"c":45,"v":72},{"c":46,"v":80},{"c":47,"v":81},{"c":48,"v":78},{"c":49,"v":68},{"c":50,"v":80},
{"c":51,"v":77},{"c":52,"v":84},{"c":53,"v":72},{"c":54,"v":78},{"c":55,"v":75},{"c":56,"v":62},{"c":57,"v":85},{"c":58,"v":90},{"c":59,"v":91},{"c":60,"v":89},
{"c":61,"v":87},{"c":62,"v":88},{"c":63,"v":86},{"c":64,"v":84},{"c":65,"v":85},{"c":66,"v":82},{"c":67,"v":80},{"c":68,"v":88},{"c":69,"v":88},{"c":70,"v":78},
{"c":71,"v":84},{"c":72,"v":84},{"c":73,"v":75},{"c":74,"v":84},{"c":75,"v":76},{"c":76,"v":75},{"c":77,"v":78},{"c":78,"v":83},{"c":79,"v":80},{"c":80,"v":86},
{"c":81,"v":75},{"c":82,"v":75},{"c":83,"v":80},{"c":84,"v":78},{"c":85,"v":70},{"c":86,"v":83},{"c":87,"v":78},{"c":88,"v":32},{"c":89,"v":80},{"c":90,"v":81},
{"c":91,"v":70},{"c":92,"v":70},{"c":93,"v":74},{"c":94,"v":89},{"c":95,"v":84},{"c":96,"v":83},{"c":97,"v":82},{"c":98,"v":81},{"c":99,"v":80},{"c":100,"v":84},
{"c":101,"v":86},{"c":102,"v":87},{"c":103,"v":82},{"c":104,"v":83},{"c":105,"v":80},{"c":106,"v":90},{"c":107,"v":89},{"c":108,"v":82},{"c":109,"v":81},{"c":110,"v":77},
{"c":111,"v":86},{"c":112,"v":82},{"c":113,"v":84},{"c":114,"v":81},{"c":115,"v":85},{"c":116,"v":83},{"c":117,"v":78},{"c":118,"v":80},{"c":119,"v":84},{"c":120,"v":80},
{"c":121,"v":86},{"c":122,"v":85},{"c":123,"v":84},{"c":124,"v":86},{"c":125,"v":84},{"c":126,"v":83},{"c":127,"v":88},{"c":128,"v":89},{"c":129,"v":85},{"c":130,"v":83},
{"c":131,"v":88},{"c":132,"v":89},{"c":133,"v":90},{"c":134,"v":86}
  ]},
   "mark": {"type": "point", "filled": true, "shape": "circle", "size": 50, "color": "#000", "opacity": 1},
   "encoding": {
     "x": {"field": "c", "type": "quantitative", "scale": {"domain": [1, 134.5], "nice": false, "zero": false}, "axis": {"title": "HTS chip number", "values": [1,11,21,31,41,51,61,71,81,91,101,111,121,131], "labelAngle": -45, "labelAlign": "right", "labelBaseline": "middle", "labelFontSize": 11, "domainColor": "#888", "titlePadding": 1}}
   }
  }
  ]
 },
 {"width": 236, "height": 190,
  "title": {"text": "H", "anchor": "start", "frame": "bounds", "fontSize": 27, "fontWeight": "bold", "offset": 5},
  "encoding": {
     "y": {"field": "z", "type": "quantitative", "scale": {"domain": [0, 1], "nice": false}, "axis": {"title": "Z’-factor", "values": [0,0.1,0.2,0.3,0.4,0.5,0.6,0.7,0.8,0.9,1], "format": ".1f", "grid": true, "gridColor": "#b0b0b0", "gridDash": [1,2], "ticks": false, "domainColor": "#888", "labelPadding": 6}}
  },
  "layer": [
  {"data": {"values": [{"z": 0.72}, {"z": 0.5}]}, "mark": {"type": "rule", "color": "#000", "strokeWidth": 1.6}},
  {"data": {"values": [
{"c":1,"z":0.885},{"c":2,"z":0.8},{"c":3,"z":0.805},{"c":5,"z":0.815},{"c":6,"z":0.875},{"c":8,"z":0.665},{"c":10,"z":0.8},{"c":12,"z":0.722},{"c":13,"z":0.53},{"c":16,"z":0.53},{"c":18,"z":0.845},{"c":20,"z":0.54},{"c":22,"z":0.906},{"c":24,"z":0.78},{"c":26,"z":0.62},{"c":28,"z":0.665},{"c":29,"z":0.79},{"c":32,"z":0.465},{"c":34,"z":0.83},{"c":36,"z":0.517},{"c":37,"z":0.58},{"c":40,"z":0.738},{"c":41,"z":0.88},{"c":44,"z":0.725},{"c":46,"z":0.703},{"c":48,"z":0.9},{"c":50,"z":0.85},{"c":52,"z":0.605},{"c":54,"z":0.73},{"c":56,"z":0.58},{"c":58,"z":0.78},{"c":60,"z":0.67},{"c":62,"z":0.605},{"c":64,"z":0.756},{"c":66,"z":0.685},{"c":67,"z":0.67},{"c":69,"z":0.67},{"c":71,"z":0.64},{"c":74,"z":0.635},{"c":76,"z":0.51},{"c":78,"z":0.84},{"c":80,"z":0.435},{"c":82,"z":0.65},{"c":83,"z":0.65},{"c":85,"z":0.74},{"c":87,"z":0.74},{"c":90,"z":0.668},{"c":92,"z":0.715},{"c":94,"z":0.5},{"c":96,"z":0.867},{"c":97,"z":0.885},{"c":100,"z":0.845},{"c":102,"z":0.8},{"c":104,"z":0.83},{"c":106,"z":0.815},{"c":108,"z":0.84},{"c":110,"z":0.855},{"c":112,"z":0.903},{"c":114,"z":0.68},{"c":116,"z":0.78},{"c":118,"z":0.628},{"c":120,"z":0.75},{"c":122,"z":0.713},{"c":124,"z":0.785},{"c":126,"z":0.68},{"c":128,"z":0.685},{"c":130,"z":0.634},{"c":132,"z":0.73}
  ]},
   "mark": {"type": "point", "filled": true, "shape": "diamond", "size": 60, "color": "#000", "opacity": 1},
   "encoding": {
     "x": {"field": "c", "type": "quantitative", "scale": {"domain": [1, 134], "nice": false, "zero": false}, "axis": {"title": "HTS chip number", "values": [1,11,21,31,41,51,61,71,81,91,101,111,121,131], "labelAngle": -45, "labelAlign": "right", "labelBaseline": "middle", "labelFontSize": 11, "domainColor": "#888", "tickSize": 5, "titlePadding": 1}}
   }
  }
  ]
 }
], "spacing": 73}
]
}
